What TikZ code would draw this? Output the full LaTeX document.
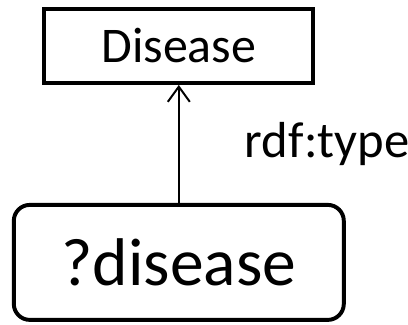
\documentclass[tikz,border=0pt]{standalone}
\usepackage{fontspec}
\setmainfont{Carlito}
\usetikzlibrary{arrows.meta}

\begin{document}
\begin{tikzpicture}[
    classbox/.style={draw, line width=2.8pt, minimum width=6.725cm, minimum height=1.85cm, font=\fontsize{35.5}{38}\selectfont},
    varbox/.style={draw, line width=2.8pt, rounded corners=0.4cm, minimum width=8.25cm, minimum height=2.875cm, font=\fontsize{48}{52}\selectfont},
    typeof/.style={line width=1.4pt, -{Straight Barb[length=0.38cm, width=0.55cm, line width=1.4pt]}}
  ]
    \useasboundingbox (0, 0) rectangle (10.2, -8.125);

    \node[classbox] (disease) at (4.47, -1.15) {Disease};
    \node[varbox] (var) at (4.47, -6.56) {?disease};

    \draw[typeof] (var) -- (disease)
      node[midway, right=1.63cm, inner sep=0, font=\fontsize{36}{40}\selectfont] {rdf:type};
  \end{tikzpicture}
\end{document}
